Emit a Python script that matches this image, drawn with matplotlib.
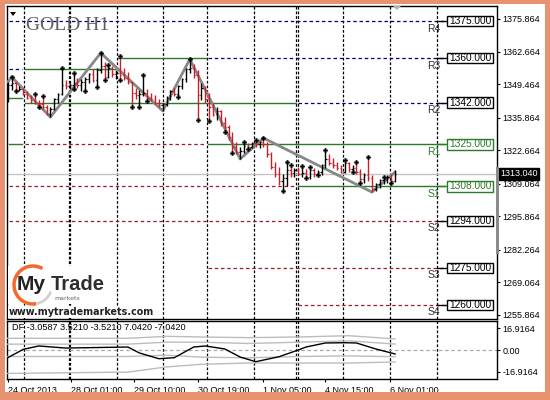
import matplotlib
matplotlib.use("Agg")
import matplotlib.pyplot as plt
import matplotlib.transforms as mtransforms
from matplotlib.patches import Rectangle, Arc, Polygon

# ============================
# 数据 (2-hour bars)
# ============================

first_open = 1343.0
highs = [1350.5, 1352.4, 1350.5, 1348.5, 1348.0, 1346.5, 1345.0, 1345.5, 1343.0, 1344.6,
         1341.0, 1340.0, 1344.0, 1346.0, 1356.0, 1351.0, 1350.0, 1354.0, 1352.0, 1351.5,
         1352.5, 1354.0, 1355.5, 1356.0, 1362.1, 1358.5, 1357.2, 1357.0, 1355.0, 1360.9,
         1356.0, 1354.5, 1350.5, 1348.0, 1347.0, 1353.2, 1347.5, 1346.0, 1345.0, 1343.5,
         1342.0, 1344.5, 1347.0, 1348.0, 1349.0, 1352.0, 1356.0, 1359.6, 1357.5, 1355.0,
         1350.0, 1348.5, 1346.0, 1342.0, 1340.0, 1339.0, 1336.0, 1333.0, 1330.0, 1326.0,
         1324.0, 1326.0, 1325.5, 1326.0, 1326.8, 1326.5, 1327.6, 1326.0, 1322.0, 1318.0,
         1316.0, 1313.0, 1317.9, 1316.7, 1315.5, 1316.0, 1316.3, 1315.0, 1315.9, 1315.5,
         1314.5, 1317.0, 1322.8, 1321.0, 1319.5, 1318.0, 1316.5, 1318.7, 1318.0, 1316.5,
         1317.9, 1315.0, 1313.5, 1319.9, 1312.5, 1309.5, 1311.0, 1311.8, 1312.5, 1313.0,
         1314.5]
lows = [1342.2, 1347.0, 1346.5, 1346.5, 1345.0, 1343.5, 1342.0, 1341.5, 1340.2, 1339.5,
        1337.0, 1336.1, 1339.0, 1342.0, 1345.0, 1347.5, 1347.5, 1347.5, 1348.0, 1346.8,
        1346.7, 1350.0, 1350.5, 1348.3, 1354.0, 1351.1, 1352.0, 1352.5, 1351.5, 1351.0,
        1351.0, 1349.5, 1340.2, 1343.5, 1340.2, 1344.5, 1342.6, 1342.5, 1341.5, 1340.0,
        1338.6, 1340.5, 1343.0, 1344.5, 1344.2, 1347.5, 1350.5, 1354.0, 1352.0, 1334.9,
        1343.0, 1342.0, 1334.5, 1336.5, 1335.0, 1332.5, 1330.1, 1327.0, 1321.5, 1321.0,
        1319.1, 1321.5, 1323.2, 1323.5, 1324.0, 1323.5, 1324.0, 1320.0, 1315.0, 1312.0,
        1308.5, 1306.1, 1308.0, 1312.0, 1312.0, 1312.5, 1312.0, 1311.4, 1311.0, 1312.0,
        1312.6, 1312.8, 1315.5, 1316.5, 1315.5, 1314.5, 1313.5, 1313.5, 1314.0, 1313.8,
        1313.0, 1309.4, 1309.5, 1310.0, 1305.7, 1306.0, 1307.5, 1309.0, 1309.5, 1309.4,
        1309.8]
closes = [1349.0, 1350.0, 1347.0, 1347.5, 1345.5, 1344.0, 1343.0, 1342.0, 1341.5, 1340.0,
          1337.5, 1339.5, 1343.5, 1345.5, 1349.0, 1348.5, 1349.0, 1350.0, 1349.0, 1350.5,
          1351.5, 1353.5, 1351.0, 1355.0, 1357.0, 1352.5, 1356.0, 1353.5, 1354.0, 1353.0,
          1352.0, 1350.5, 1346.0, 1345.0, 1345.5, 1346.0, 1344.0, 1343.5, 1342.0, 1341.0,
          1341.5, 1344.0, 1346.5, 1345.5, 1348.5, 1351.5, 1355.5, 1356.0, 1353.0, 1345.0,
          1348.0, 1343.5, 1340.0, 1337.5, 1338.5, 1333.5, 1332.0, 1328.0, 1324.0, 1322.0,
          1322.5, 1324.5, 1324.0, 1325.5, 1325.0, 1326.0, 1325.0, 1321.0, 1316.0, 1313.0,
          1310.0, 1311.5, 1314.5, 1313.5, 1314.5, 1313.0, 1313.5, 1312.0, 1314.5, 1313.0,
          1314.0, 1316.5, 1319.0, 1317.5, 1316.5, 1315.5, 1314.0, 1317.5, 1315.0, 1315.5,
          1314.0, 1311.0, 1312.5, 1311.5, 1307.0, 1309.0, 1310.5, 1311.0, 1312.0, 1310.0,
          1313.04]
last_price = 1313.04

up_fractals = [1, 7, 9, 14, 17, 24, 26, 29, 35, 47, 61, 64, 66, 72, 73, 76, 78, 82, 87, 90, 93, 97]
down_fractals = [2, 8, 17, 20, 23, 25, 29, 32, 34, 36, 44, 49, 52, 56, 58, 62, 71, 77, 80, 89, 91, 99]

zz_idx = [0, 1, 11, 24, 40, 47, 60, 66, 94, 100]
zz_price = [1350.3, 1352.4, 1336.1, 1362.1, 1338.6, 1359.6, 1319.1, 1327.6, 1305.7, 1313.8]

# day separators (bar units)
separators = [4.12, 15.72, 16.1, 28.09, 39.95, 51.55, 63.66, 74.48, 74.87, 86.6, 98.7, 110.8]

# pivot levels
level_prices = [1375.0, 1360.0, 1342.0, 1325.0, 1308.0, 1294.0, 1275.0, 1260.0]
level_names = ["R4", "R3", "R2", "R1", "S1", "S2", "S3", "S4"]
level_green = [False, False, False, True, True, False, False, False]
segments = [
    (1375.0, 0, 112.9, "navy"),
    (1355.5, 0, 4.1, "navy"),
    (1355.5, 4.1, 28.1, "green"),
    (1343.7, 0, 4.1, "green"),
    (1360.0, 28.1, 51.5, "green"),
    (1360.0, 51.5, 112.9, "navy"),
    (1342.0, 4.1, 74.6, "green"),
    (1342.0, 74.6, 112.9, "navy"),
    (1325.0, 0, 4.1, "green"),
    (1325.0, 4.1, 51.5, "red"),
    (1325.0, 51.5, 112.9, "green"),
    (1308.0, 0, 74.6, "red"),
    (1308.0, 74.6, 112.9, "green"),
    (1294.0, 0, 112.9, "red"),
    (1275.0, 0, 4.1, "red"),
    (1275.0, 51.5, 112.9, "red"),
    (1260.0, 74.6, 112.9, "red"),
]

price_ticks = [1375.864, 1362.664, 1349.464, 1335.864, 1322.664,
               1309.064, 1295.864, 1282.264, 1269.064, 1255.864]

# DF indicator window
df_x = [0, 4, 8, 15, 31, 34, 39, 43, 48, 51, 56, 60, 64, 70, 75, 77, 82, 87, 90, 95, 100]
df_val = [-5.9, 0.5, 3.1, 1.5, 2.3, -2.3, -6.7, -5.9, 2.3, 3.1, 0.8, -5.4, -9.0, -5.2,
          0.0, 2.3, 5.4, 5.6, 5.4, 0.8, -3.06]
band_x = [0, 31, 41, 50, 62, 75, 88, 100]
band_up2 = [9.0, 9.0, 10.5, 10.0, 9.5, 10.0, 11.0, 8.5]
band_up1 = [4.5, 4.5, 6.0, 6.0, 5.0, 6.0, 7.0, 4.6]
band_dn1 = [-5.0, -5.0, -4.0, -5.5, -6.0, -5.0, -4.5, -5.2]
band_dn2 = [-18.0, -17.0, -13.0, -11.0, -10.0, -10.0, -10.0, -9.2]
df_ticks = [16.9164, 0.0, -16.9164]
df_ticklabels = ["16.9164", "0.00", "-16.9164"]

time_pos = [0, 16.2, 32.7, 49.2, 66.0, 82.0, 98.7]
time_labels = ["24 Oct 2013", "28 Oct 01:00", "29 Oct 10:00", "30 Oct 19:00",
               "1 Nov 05:00", "4 Nov 15:00", "6 Nov 01:00"]

# ============================
# 样式
# ============================
RED = "#c8202a"
LVL_RED = "#a01c2a"
NAVY = "#00007a"
GREEN = "#2a7a2a"
FONT = "Liberation Sans"
XMAX = 126.3

fig = plt.figure(figsize=(5.5, 4.0), dpi=100)
fig.patch.set_facecolor("white")

ax = fig.add_axes([7 / 550, 1 - 319 / 400, 490 / 550, 313 / 400])
sub = fig.add_axes([7 / 550, 1 - 379 / 400, 490 / 550, 58 / 400])

for a in (ax, sub):
    for s in a.spines.values():
        s.set_color("black")
        s.set_linewidth(1.0)
    a.set_xlim(-0.2, XMAX)
    for xs in separators:
        a.axvline(xs, color="black", lw=0.9, dashes=(2.2, 1.5), zorder=1)

# ---- main chart ----
ax.set_ylim(1254.24, 1381.13)

line_style = {"navy": dict(color=NAVY, lw=0.9, dashes=(2.8, 2.2)),
              "red": dict(color=LVL_RED, lw=0.9, dashes=(2.8, 2.2)),
              "green": dict(color=GREEN, lw=1.0)}
for price, x0, x1, kind in segments:
    ax.plot([x0 + 0.3, x1 - 0.3], [price, price], zorder=2, **line_style[kind])

ax.axhline(last_price, color="#c4c4c4", lw=1.0, zorder=2)

# bars
opens = [first_open] + closes[:-1]
for i in range(len(closes)):
    col = "black" if closes[i] >= opens[i] else RED
    ax.vlines(i, lows[i], highs[i], color=col, lw=1.0, zorder=4)
    ax.hlines(opens[i], i - 0.35, i, color=col, lw=0.9, zorder=4)
    ax.hlines(closes[i], i, i + 0.35, color=col, lw=0.9, zorder=4)

ax.plot(zz_idx, zz_price, color="#888888", lw=2.0, zorder=3, solid_capstyle="round")
ax.plot(up_fractals, [highs[i] for i in up_fractals], ls="none", marker="P",
        ms=3.2, color="black", mec="black", mew=0.2, zorder=5)
ax.plot(down_fractals, [lows[i] for i in down_fractals], ls="none", marker="P",
        ms=3.2, color="black", mec="black", mew=0.2, zorder=5)

# level labels and price boxes
px_price = 0.4054
for price, name, grn in zip(level_prices, level_names, level_green):
    col = GREEN if grn else "black"
    txtcol = GREEN if grn else "#333333"
    ax.plot([110.8, 113.4], [price, price], color=col, lw=1.0, zorder=6)
    ax.text(111.6, price - 1.0, name, ha="right", va="top", fontsize=7.5,
            family=FONT, color=txtcol, zorder=6)
    ax.add_patch(Rectangle((113.4, price - 5.2 * px_price), 11.9, 10.4 * px_price,
                           facecolor="white", edgecolor=col, lw=1.0, zorder=6))
    ax.text(119.35, price, f"{price:.3f}", ha="center", va="center", fontsize=7.3,
            family=FONT, color=col, zorder=7)

ax.set_xticks([])
ax.yaxis.tick_right()
ax.set_yticks(price_ticks)
ax.set_yticklabels([f"{v:.3f}" for v in price_ticks])
ax.tick_params(axis="y", length=2.2, width=0.8, pad=1.5, labelsize=6.5)
for t in ax.get_yticklabels():
    t.set_family(FONT)

trans = mtransforms.blended_transform_factory(ax.transAxes, ax.transData)
ax.text(1.006, last_price, f"{last_price:.3f}", transform=trans, ha="left", va="center",
        fontsize=6.5, family=FONT, color="white", zorder=8,
        bbox=dict(boxstyle="square,pad=0.15", facecolor="black", edgecolor="black"))

# ---- DF window ----
sub.set_ylim(-22.3, 22.3)
sub.axhline(0, color="#a8a8a8", lw=0.9, dashes=(2.8, 2.2), zorder=2)
for band in (band_up2, band_up1, band_dn1, band_dn2):
    sub.plot(band_x, band, color="#bcbcbc", lw=1.0, zorder=3)
sub.plot(df_x, df_val, color="black", lw=1.0, zorder=4)
sub.text(5 / 490, 0.88, "DF -3.0587 3.5210 -3.5210 7.0420 -7.0420", transform=sub.transAxes,
         ha="left", va="center", fontsize=6.6, family=FONT, color="black")

sub.yaxis.tick_right()
sub.set_yticks(df_ticks)
sub.set_yticklabels(df_ticklabels)
sub.set_xticks(time_pos)
sub.set_xticklabels(time_labels)
sub.tick_params(axis="both", length=2.2, width=0.8, pad=1.5, labelsize=6.5)
sub.tick_params(axis="x", pad=3)
for t in sub.get_xticklabels():
    t.set_family(FONT)
    t.set_ha("left")
for t in sub.get_yticklabels():
    t.set_family(FONT)

# ---- overlay: frame, logo, markers (pixel coords) ----
ov = fig.add_axes([0, 0, 1, 1])
ov.set_xlim(0, 550)
ov.set_ylim(400, 0)
ov.axis("off")
ov.patch.set_alpha(0)
ov.set_zorder(10)

frame = "#e9926f"
for r in [(0, 0, 5, 400), (0, 0, 550, 4), (545, 0, 5, 400), (0, 392, 550, 8)]:
    ov.add_patch(Rectangle((r[0], r[1]), r[2], r[3], facecolor=frame, edgecolor="none"))

ov.text(26, 26, "GOLD H1", family="Liberation Serif", fontsize=14, color="#5e5e5e",
        ha="left", va="center")
ov.add_patch(Polygon([[10, 12], [16, 12], [13, 16]], closed=True, facecolor="black"))
ov.add_patch(Polygon([[393, 6], [401, 6], [397, 10]], closed=True, facecolor="#b0b0b0"))
ov.add_patch(Rectangle((495.5, 167), 3, 87, facecolor="#8a8a8a", edgecolor="none"))

# logo
ov.add_patch(Rectangle((8, 266), 100, 38, facecolor="white", edgecolor="none"))
ov.add_patch(Arc((33, 285), 38, 38, theta1=80, theta2=300, color="#f26a2c", lw=2.5))
ov.add_patch(Arc((33, 285), 38, 38, theta1=20, theta2=80, color="#d0d0d0", lw=2.0))
ov.text(17, 285, "My", fontsize=15, fontweight="bold", color="#222222",
        family=FONT, ha="left", va="center")
ov.text(51, 285, "Trade", fontsize=14.5, fontweight="bold", color="#2e2e2e",
        family=FONT, ha="left", va="center")
ov.text(80, 298, "markets", fontsize=4.5, color="#666666", family="DejaVu Sans",
        ha="right", va="center")
ov.text(9, 312, "www.mytrademarkets.com", fontsize=6.9, fontweight="bold", color="#222222",
        family="DejaVu Sans", ha="left", va="center",
        bbox=dict(boxstyle="square,pad=0.1", facecolor="white", edgecolor="none"))

fig.savefig("out.png", dpi=100, facecolor="white")
